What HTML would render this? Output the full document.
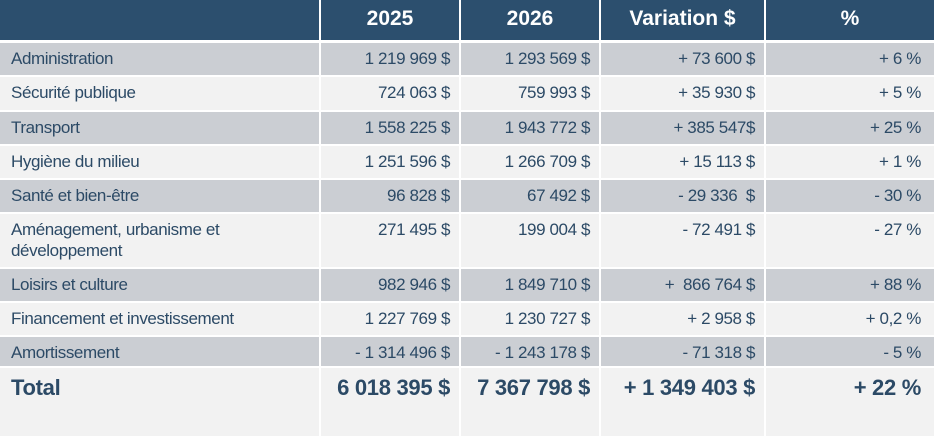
<!DOCTYPE html>
<html><head><meta charset="utf-8"><style>
body{margin:0;width:934px;height:436px;background:#fff;overflow:hidden;font-family:"Liberation Sans",sans-serif;color:#2c4a66}
.c{position:absolute;box-sizing:border-box;font-size:17px;line-height:21px;letter-spacing:-0.4px;white-space:nowrap}
.h{background:#2c4f6e;color:#fff;font-weight:bold;font-size:21px;text-align:center;padding-top:8px;letter-spacing:0}
.g{background:#cbced3}.w{background:#f2f2f2}
.r{text-align:right;padding-right:9px}
.l{padding-left:11px}
.t{font-weight:bold;font-size:22px;padding-top:9px;letter-spacing:-0.3px}
</style></head><body>
<div id="t"></div>
<script>
const cols=[[0,319],[321,459],[461,599],[601,764],[766,934]];
const rows=[[43,75,"Administration","1 219 969 $","1 293 569 $","+ 73 600 $","+ 6 %"],
[77,110,"Sécurité publique","724 063 $","759 993 $","+ 35 930 $","+ 5 %"],
[112,144,"Transport","1 558 225 $","1 943 772 $","+ 385 547$","+ 25 %"],
[146,178,"Hygiène du milieu","1 251 596 $","1 266 709 $","+ 15 113 $","+ 1 %"],
[180,212,"Santé et bien-être","96 828 $","67 492 $","- 29 336 &nbsp;$","- 30 %"],
[214,267,"Aménagement, urbanisme et<br>développement","271 495 $","199 004 $","- 72 491 $","- 27 %"],
[269,301,"Loisirs et culture","982 946 $","1 849 710 $","+ &nbsp;866 764 $","+ 88 %"],
[303,335,"Financement et investissement","1 227 769 $","1 230 727 $","+ 2 958 $","+ 0,2 %"],
[337,366,"Amortissement","- 1 314 496 $","- 1 243 178 $","- 71 318 $","- 5 %"]];
let h="";
const hd=["","2025","2026","Variation $","%"];
cols.forEach((c,i)=>{h+=`<div class="c h" style="left:${c[0]}px;width:${c[1]-c[0]}px;top:0;height:40px">${hd[i]}</div>`});
rows.forEach((r,k)=>{const cl=k%2==0?"g":"w";cols.forEach((c,i)=>{h+=`<div class="c ${cl} ${i?'r':'l'}" style="left:${c[0]}px;width:${c[1]-c[0]}px;top:${r[0]}px;height:${r[1]-r[0]}px;padding-top:5px;${i==4?'padding-right:13px':''}">${r[2+i]}</div>`})});
const tt=["Total","6 018 395 $","7 367 798 $","+ 1 349 403 $","+ 22 %"];
cols.forEach((c,i)=>{h+=`<div class="c w t ${i?'r':'l'}" style="left:${c[0]}px;width:${c[1]-c[0]}px;top:368px;height:68px;${i==4?'padding-right:13px':''}">${tt[i]}</div>`});
document.getElementById("t").innerHTML=h;
</script>
</body></html>
